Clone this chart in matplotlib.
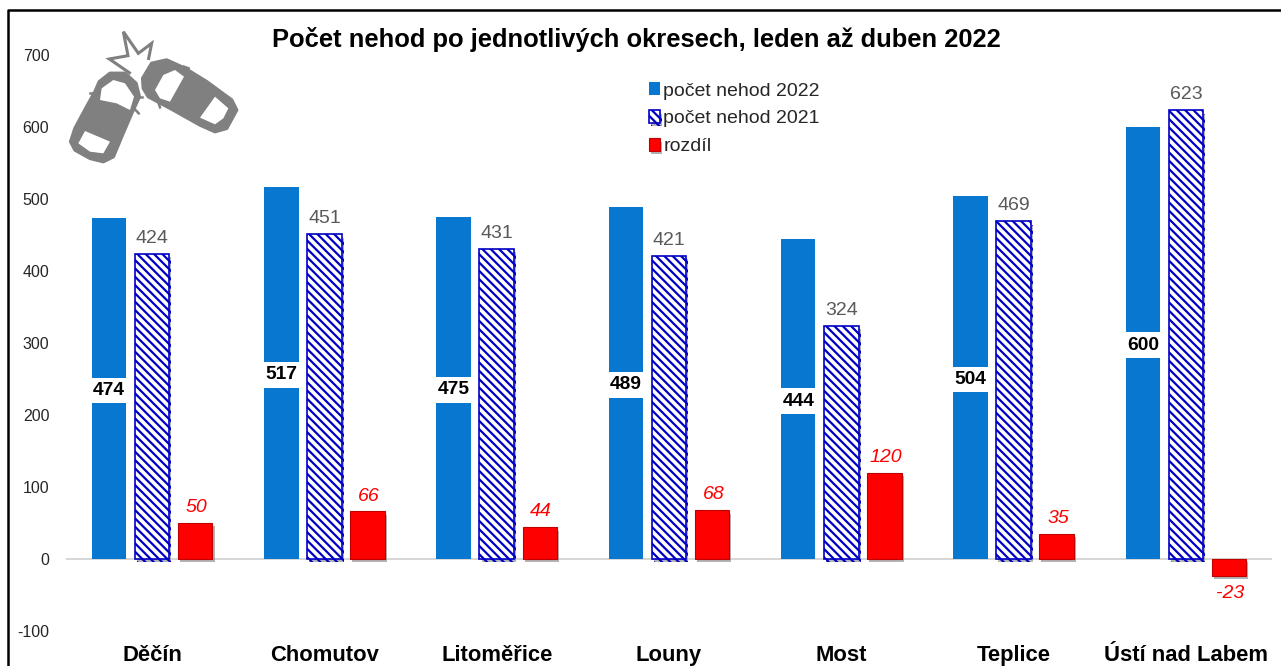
import matplotlib
matplotlib.use("Agg")
import matplotlib.pyplot as plt
import matplotlib.patheffects as pe
from matplotlib.patches import Polygon
import numpy as np

okresy = ["Děčín", "Chomutov", "Litoměřice", "Louny", "Most", "Teplice", "Ústí nad Labem"]
nehody_2022 = [474, 517, 475, 489, 444, 504, 600]
nehody_2021 = [424, 451, 431, 421, 324, 469, 623]
rozdil = [50, 66, 44, 68, 120, 35, -23]
y_ticks = [-100, 0, 100, 200, 300, 400, 500, 600, 700]

BLUE = "#0777cf"
NAVY = "#0000c4"
RED = "#ff0000"
GRAY = "#808080"

plt.rcParams["font.family"] = ["Liberation Sans", "DejaVu Sans"]
plt.rcParams["hatch.linewidth"] = 1.6
plt.rcParams["axes.unicode_minus"] = False

W, H = 1281, 666
fig = plt.figure(figsize=(W / 100, H / 100), dpi=100)
ax = fig.add_axes([66 / W, 1 - 631 / H, (1272 - 66) / W, (631 - 55) / H])
ax.set_xlim(-0.5, 6.5)
ax.set_ylim(-100, 700)

x = np.arange(len(okresy))
w = 0.2
step = 0.25
shadow = [pe.SimplePatchShadow(offset=(1.5, -2.5), shadow_rgbFace="#777777", alpha=0.55), pe.Normal()]

b1 = ax.bar(x - step, nehody_2022, w, color=BLUE, label="počet nehod 2022")
b2 = ax.bar(x, nehody_2021, w, facecolor="white", edgecolor=NAVY, hatch="\\\\\\\\", linewidth=1.2,
            label="počet nehod 2021")
b3 = ax.bar(x + step, rozdil, w, color=RED, edgecolor="#c00000", linewidth=0.8, label="rozdíl")
for bar in list(b2) + list(b3):
    bar.set_path_effects(shadow)

for i in range(len(okresy)):
    ax.text(x[i] - step, nehody_2022[i] / 2, str(nehody_2022[i]), ha="center", va="center_baseline",
            fontsize=13.8, fontweight="bold", color="black",
            bbox=dict(facecolor="white", edgecolor="none", pad=3))
    ax.annotate(str(nehody_2021[i]), (x[i], nehody_2021[i]), xytext=(0, 5), textcoords="offset points",
                ha="center", va="bottom", fontsize=14, color="#595959")
    off = 5 if rozdil[i] > 0 else -6.5
    ax.annotate(str(rozdil[i]), (x[i] + step, rozdil[i]), xytext=(1, off), textcoords="offset points",
                ha="center", va="top" if rozdil[i] < 0 else "bottom", fontsize=14,
                color=RED, style="italic")

ax.axhline(0, color="#d0d0d0", lw=1.2, zorder=0.5)
for s in ax.spines.values():
    s.set_visible(False)
ax.set_yticks(y_ticks)
ax.tick_params(axis="y", length=0, pad=12, labelsize=11.5, labelcolor="#262626")
ax.set_xticks(x)
ax.set_xticklabels(okresy, fontsize=15.8, fontweight="bold", color="black")
ax.tick_params(axis="x", length=0, pad=21.5)
for lab in ax.get_xticklabels():
    lab.set_verticalalignment("baseline")

leg = ax.legend(loc="upper left", bbox_to_anchor=(583 / 1206, 1 - 27.5 / 576), frameon=False,
                fontsize=14, labelspacing=0.56, handlelength=0.58, handleheight=0.6,
                handletextpad=0.15, borderpad=0, borderaxespad=0)
for t in leg.get_texts():
    t.set_color("#262626")

fig.text(636 / W, 1 - 40 / H, "Počet nehod po jednotlivých okresech, leden až duben 2022",
         ha="center", va="center", fontsize=18.4, fontweight="bold", color="black")

# overlay v pixelech: ramecek a ikona aut
ov = fig.add_axes([0, 0, 1, 1], zorder=5)
ov.set_xlim(0, W)
ov.set_ylim(H, 0)
ov.axis("off")
ov.patch.set_alpha(0)
ov.plot([7.5, 7.5, W], [H, 9.5, 9.5], color="black", lw=1.8, solid_capstyle="butt")


def px(points):
    # body odectene z vyrezu ikony
    return [(60 + a / 3, 25 + b / 3) for a, b in points]


car1 = [(118, 170), (150, 145), (195, 145), (228, 175), (238, 215), (215, 265), (185, 335), (160, 395),
        (130, 410), (90, 400), (45, 375), (32, 350), (45, 310), (80, 245), (105, 200)]
okno1a = [(120, 225), (125, 190), (160, 165), (195, 175), (222, 215), (210, 255), (170, 235)]
okno1b = [(55, 355), (75, 318), (115, 335), (150, 350), (130, 385), (90, 380)]
car2 = [(248, 160), (275, 115), (320, 105), (375, 130), (440, 170), (515, 225), (530, 255), (500, 310),
        (465, 320), (420, 300), (340, 255), (265, 215), (250, 190)]
okno2a = [(285, 195), (310, 150), (345, 135), (372, 155), (330, 230), (300, 220)]
okno2b = [(420, 278), (465, 215), (505, 250), (490, 280), (465, 298)]
hvezda = [(212, 146), (148, 102), (204, 92), (190, 20), (235, 85), (275, 55), (265, 105)]
zrcatka = [[(90, 205), (112, 205)], [(232, 215), (246, 215)], [(222, 250), (236, 265)],
           [(372, 125), (386, 130)], [(295, 232), (300, 247)]]

for body in (car1, car2):
    ov.add_patch(Polygon(px(body), closed=True, fc=GRAY, ec=GRAY, lw=2.5, joinstyle="round"))
for z in zrcatka:
    ov.plot(*zip(*px(z)), color=GRAY, lw=1.8)
for okno in (okno1a, okno1b, okno2a, okno2b):
    ov.add_patch(Polygon(px(okno), closed=True, fc="white", ec="none"))
ov.add_patch(Polygon(px(hvezda), closed=False, fc="none", ec=GRAY, lw=2.2, joinstyle="miter"))

fig.savefig("out.png", dpi=100)
